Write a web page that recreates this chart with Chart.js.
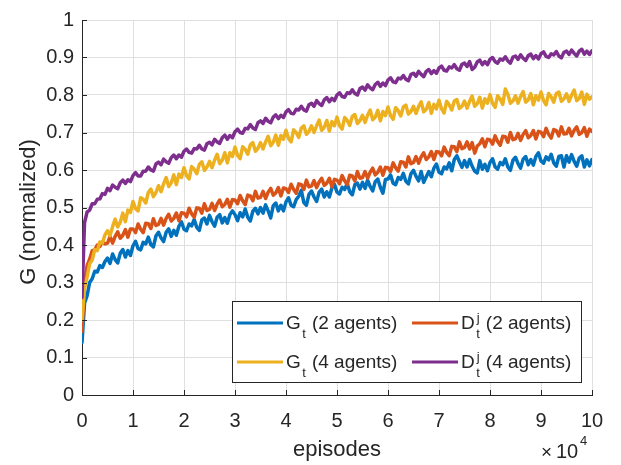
<!DOCTYPE html>
<html><head><meta charset="utf-8">
<script src="https://cdn.jsdelivr.net/npm/chart.js@4/dist/chart.umd.min.js"></script>
<style>html,body{margin:0;padding:0;background:#fff}#wrap{width:621px;height:465px;position:relative}</style>
</head><body><div id="wrap"><canvas id="c" width="621" height="465"></canvas></div>
<script>
// episodes, in thousands
const episodesK = [
 0,0.5,1,1.5,2,2.5,3,3.5,4,4.5, 5,5.5,6,6.5,7,7.5,8,8.5,9,9.5,
 10,10.5,11,11.5,12,12.5,13,13.5,14,14.5, 15,15.5,16,16.5,17,17.5,18,18.5,19,19.5,
 20,20.5,21,21.5,22,22.5,23,23.5,24,24.5, 25,25.5,26,26.5,27,27.5,28,28.5,29,29.5,
 30,30.5,31,31.5,32,32.5,33,33.5,34,34.5, 35,35.5,36,36.5,37,37.5,38,38.5,39,39.5,
 40,40.5,41,41.5,42,42.5,43,43.5,44,44.5, 45,45.5,46,46.5,47,47.5,48,48.5,49,49.5,
 50,50.5,51,51.5,52,52.5,53,53.5,54,54.5, 55,55.5,56,56.5,57,57.5,58,58.5,59,59.5,
 60,60.5,61,61.5,62,62.5,63,63.5,64,64.5, 65,65.5,66,66.5,67,67.5,68,68.5,69,69.5,
 70,70.5,71,71.5,72,72.5,73,73.5,74,74.5, 75,75.5,76,76.5,77,77.5,78,78.5,79,79.5,
 80,80.5,81,81.5,82,82.5,83,83.5,84,84.5, 85,85.5,86,86.5,87,87.5,88,88.5,89,89.5,
 90,90.5,91,91.5,92,92.5,93,93.5,94,94.5, 95,95.5,96,96.5,97,97.5,98,98.5,99,99.5, 100];

// G_t (2 agents)
const g2 = [
 0.14,0.245,0.265,0.30,0.31,0.33,0.328,0.345,0.34,0.356,
 0.365,0.351,0.376,0.361,0.352,0.378,0.388,0.368,0.385,0.372,
 0.398,0.41,0.39,0.387,0.407,0.403,0.421,0.401,0.395,0.424,
 0.434,0.419,0.409,0.434,0.443,0.423,0.439,0.426,0.45,0.462,
 0.442,0.438,0.456,0.451,0.468,0.447,0.439,0.467,0.472,0.456,
 0.479,0.462,0.45,0.474,0.481,0.459,0.473,0.458,0.481,0.491,
 0.481,0.465,0.486,0.475,0.496,0.474,0.464,0.49,0.498,0.483,
 0.50,0.485,0.507,0.491,0.472,0.505,0.512,0.491,0.506,0.491,
 0.515,0.526,0.506,0.502,0.521,0.53,0.546,0.513,0.506,0.535,
 0.544,0.528,0.516,0.541,0.549,0.528,0.542,0.528,0.552,0.562,
 0.541,0.536,0.554,0.548,0.564,0.542,0.534,0.561,0.565,0.549,
 0.567,0.551,0.573,0.556,0.544,0.569,0.576,0.554,0.538,0.575,
 0.576,0.587,0.565,0.561,0.58,0.575,0.591,0.57,0.563,0.59,
 0.599,0.583,0.571,0.596,0.567,0.582,0.596,0.582,0.605,0.616,
 0.594,0.59,0.608,0.603,0.619,0.598,0.628,0.638,0.622,0.607,
 0.625,0.608,0.628,0.61,0.597,0.592,0.625,0.602,0.615,0.598,
 0.62,0.63,0.608,0.602,0.62,0.614,0.63,0.608,0.599,0.626,
 0.634,0.617,0.605,0.629,0.636,0.614,0.628,0.613,0.636,0.646,
 0.624,0.618,0.635,0.627,0.642,0.619,0.61,0.636,0.638,0.608,
 0.638,0.621,0.641,0.623,0.61,0.632,0.638,0.608,0.627,0.611, 0.628];

// D_t^j (2 agents)
const d2 = [
 0.17,0.30,0.345,0.362,0.385,0.387,0.40,0.396,0.408,0.403,
 0.405,0.422,0.405,0.423,0.435,0.418,0.426,0.441,0.421,0.443,
 0.443,0.433,0.456,0.442,0.433,0.458,0.457,0.444,0.47,0.452,
 0.455,0.471,0.453,0.471,0.482,0.464,0.471,0.485,0.465,0.486,
 0.485,0.475,0.498,0.483,0.474,0.499,0.498,0.485,0.51,0.492,
 0.495,0.511,0.492,0.509,0.52,0.502,0.508,0.522,0.501,0.521,
 0.52,0.51,0.532,0.518,0.508,0.533,0.531,0.518,0.543,0.525,
 0.527,0.543,0.524,0.541,0.551,0.533,0.539,0.553,0.531,0.552,
 0.55,0.54,0.562,0.548,0.538,0.563,0.561,0.548,0.573,0.555,
 0.557,0.572,0.553,0.568,0.578,0.559,0.565,0.578,0.555,0.575,
 0.573,0.563,0.585,0.571,0.561,0.586,0.584,0.571,0.596,0.578,
 0.58,0.596,0.578,0.594,0.605,0.587,0.594,0.608,0.586,0.607,
 0.606,0.596,0.619,0.606,0.597,0.622,0.621,0.608,0.635,0.617,
 0.62,0.636,0.618,0.635,0.646,0.628,0.635,0.649,0.628,0.649,
 0.648,0.638,0.661,0.647,0.638,0.663,0.662,0.649,0.675,0.657,
 0.66,0.675,0.656,0.673,0.645,0.664,0.67,0.683,0.662,0.682,
 0.68,0.669,0.691,0.676,0.666,0.69,0.689,0.674,0.70,0.681,
 0.683,0.698,0.679,0.695,0.705,0.686,0.692,0.705,0.683,0.703,
 0.701,0.689,0.711,0.695,0.685,0.708,0.705,0.691,0.715,0.696,
 0.697,0.711,0.691,0.706,0.715,0.695,0.70,0.713,0.69,0.709, 0.703];

// G_t (4 agents)
const g4 = [
 0.20,0.285,0.315,0.35,0.36,0.388,0.385,0.408,0.405,0.427,
 0.438,0.425,0.449,0.469,0.448,0.461,0.485,0.462,0.493,0.487,
 0.516,0.497,0.491,0.526,0.522,0.512,0.54,0.549,0.529,0.54,
 0.558,0.542,0.563,0.58,0.556,0.566,0.587,0.561,0.589,0.58,
 0.606,0.585,0.576,0.609,0.602,0.59,0.615,0.622,0.599,0.608,
 0.623,0.606,0.626,0.642,0.617,0.626,0.646,0.619,0.646,0.636,
 0.661,0.639,0.63,0.662,0.655,0.642,0.667,0.673,0.65,0.658,
 0.673,0.656,0.675,0.69,0.665,0.674,0.693,0.666,0.692,0.682,
 0.706,0.684,0.675,0.707,0.70,0.687,0.712,0.718,0.695,0.703,
 0.718,0.70,0.718,0.733,0.706,0.714,0.732,0.704,0.729,0.718,
 0.741,0.718,0.709,0.74,0.732,0.719,0.743,0.748,0.724,0.732,
 0.746,0.727,0.746,0.76,0.734,0.741,0.759,0.731,0.756,0.745,
 0.768,0.745,0.735,0.766,0.758,0.744,0.768,0.773,0.749,0.756,
 0.77,0.751,0.769,0.782,0.755,0.762,0.78,0.751,0.775,0.763,
 0.786,0.763,0.752,0.783,0.774,0.76,0.784,0.788,0.764,0.77,
 0.784,0.765,0.783,0.797,0.77,0.777,0.794,0.765,0.79,0.778,
 0.801,0.778,0.767,0.798,0.789,0.775,0.816,0.802,0.778,0.784,
 0.798,0.778,0.796,0.809,0.781,0.787,0.804,0.774,0.798,0.786,
 0.808,0.785,0.774,0.804,0.795,0.781,0.804,0.808,0.783,0.79,
 0.803,0.783,0.80,0.813,0.785,0.791,0.808,0.775,0.802,0.789, 0.795];

// D_t^j (4 agents)
const d4 = [
 0.26,0.46,0.488,0.493,0.51,0.51,0.522,0.523,0.537,0.535,
 0.551,0.545,0.56,0.554,0.55,0.566,0.573,0.564,0.574,0.569,
 0.585,0.593,0.584,0.584,0.597,0.597,0.608,0.60,0.597,0.616,
 0.621,0.614,0.629,0.622,0.618,0.633,0.64,0.63,0.64,0.634,
 0.65,0.656,0.647,0.645,0.657,0.656,0.666,0.656,0.653,0.67,
 0.674,0.667,0.682,0.675,0.671,0.686,0.693,0.682,0.692,0.686,
 0.702,0.709,0.70,0.698,0.711,0.71,0.721,0.712,0.708,0.726,
 0.731,0.724,0.738,0.73,0.726,0.741,0.747,0.737,0.746,0.74,
 0.755,0.761,0.751,0.75,0.762,0.76,0.77,0.76,0.757,0.774,
 0.778,0.77,0.785,0.777,0.772,0.787,0.793,0.782,0.791,0.785,
 0.80,0.806,0.796,0.794,0.806,0.804,0.814,0.804,0.80,0.817,
 0.821,0.813,0.827,0.819,0.814,0.828,0.834,0.823,0.832,0.825,
 0.84,0.846,0.835,0.833,0.845,0.843,0.852,0.842,0.838,0.855,
 0.858,0.85,0.863,0.855,0.849,0.863,0.868,0.857,0.865,0.858,
 0.872,0.877,0.866,0.864,0.875,0.872,0.881,0.87,0.866,0.882,
 0.885,0.876,0.889,0.868,0.874,0.888,0.893,0.881,0.889,0.881,
 0.895,0.90,0.889,0.885,0.896,0.893,0.902,0.891,0.885,0.901,
 0.904,0.895,0.907,0.898,0.892,0.905,0.909,0.897,0.905,0.896,
 0.91,0.915,0.903,0.90,0.91,0.907,0.916,0.904,0.899,0.914,
 0.917,0.908,0.92,0.911,0.904,0.917,0.922,0.909,0.917,0.908, 0.918];

const xTickValues = [0,10000,20000,30000,40000,50000,60000,70000,80000,90000,100000];
const yTickValues = [0,0.1,0.2,0.3,0.4,0.5,0.6,0.7,0.8,0.9,1];
const legendBase = ['G','D','G','D'];
const legendSup  = ['','j','','j'];
const legendSub  = ['t','t','t','t'];
const legendRest = ['(2 agents)','(2 agents)','(4 agents)','(4 agents)'];
const colors = ['#0072BD','#D95319','#EDB120','#7E2F8E'];
const seriesList = [g2,d2,g4,d4];

const FONT = "'Liberation Sans', Arial, Helvetica, sans-serif";
const INK = '#262626';

const datasets = seriesList.map((s,i)=>({
  label: legendBase[i]+legendSub[i]+' '+legendRest[i],
  data: episodesK.map((e,k)=>({x:e*1000,y:s[k]})),
  borderColor: colors[i], backgroundColor: colors[i],
  borderWidth: 3.5, pointRadius: 0, tension: 0, fill:false,
  borderJoinStyle:'round', borderCapStyle:'round',
  order: 4-i
}));

const decor = {
  id:'decor',
  afterDraw(chart){
    const ctx = chart.ctx, xs = chart.scales.x, ys = chart.scales.y, a = chart.chartArea;
    ctx.save();
    // inward ticks
    ctx.strokeStyle = INK; ctx.lineWidth = 1;
    ctx.beginPath();
    xTickValues.forEach(v=>{const p=Math.round(xs.getPixelForValue(v))+0.5; ctx.moveTo(p,a.bottom); ctx.lineTo(p,a.bottom-5);});
    yTickValues.forEach(v=>{const p=Math.round(ys.getPixelForValue(v))+0.5; ctx.moveTo(a.left,p); ctx.lineTo(a.left+5,p);});
    ctx.stroke();
    // axis titles
    ctx.fillStyle = INK;
    ctx.font = '22px '+FONT;
    ctx.textAlign='center'; ctx.textBaseline='alphabetic';
    ctx.fillText('episodes', (a.left+a.right)/2, 456);
    ctx.save();
    ctx.translate(35, 212); ctx.rotate(-Math.PI/2);
    ctx.fillText('G (normalized)', 0, 0);
    ctx.restore();
    // x10^4
    ctx.textAlign='left';
    ctx.font = '19px '+FONT;
    ctx.fillText('\u00d7', 541, 458);
    ctx.font = '20px '+FONT;
    ctx.fillText('10', 556, 458);
    ctx.font = '13px '+FONT;
    ctx.fillText('4', 580, 445);
    // legend
    ctx.fillStyle='#fff';
    ctx.fillRect(232,301,350,82);
    ctx.strokeStyle=INK; ctx.lineWidth=1;
    ctx.strokeRect(232.5,301.5,349,81);
    const colX=[237,412], rowY=[323,362];
    chart.data.datasets.forEach((ds,i)=>{
      const x=colX[i%2], y=rowY[Math.floor(i/2)];
      ctx.strokeStyle=ds.borderColor; ctx.lineWidth=3; ctx.lineCap='butt';
      ctx.beginPath(); ctx.moveTo(x,y); ctx.lineTo(x+46,y); ctx.stroke();
      ctx.fillStyle=INK;
      ctx.font='19px '+FONT;
      let tx=x+49; const base=y+6;
      ctx.fillText(legendBase[i], tx, base);
      tx += ctx.measureText(legendBase[i]).width + 1.5;
      ctx.font='13px '+FONT;
      ctx.fillText(legendSub[i], tx, base+9);
      let w = ctx.measureText(legendSub[i]).width;
      if(legendSup[i]){ ctx.fillText(legendSup[i], tx+0.5, base-7); w=Math.max(w, ctx.measureText(legendSup[i]).width); }
      tx += w + 6;
      ctx.font='19px '+FONT;
      ctx.fillText(legendRest[i], tx, base);
    });
    ctx.restore();
  }
};

new Chart(document.getElementById('c'), {
  type:'line',
  data:{datasets},
  options:{
    responsive:false, animation:false, devicePixelRatio:1,
    layout:{padding:{top:11,right:29,left:0,bottom:0}},
    plugins:{legend:{display:false}, tooltip:{enabled:false}},
    scales:{
      x:{type:'linear', min:0, max:100000,
        afterBuildTicks:(s)=>{s.ticks = xTickValues.map(v=>({value:v}));},
        afterFit:(s)=>{s.height=70;},
        grid:{color:'#dfdfdf', lineWidth:1, drawTicks:false},
        border:{display:true, color:INK, width:1},
        ticks:{padding:14, color:INK, font:{family:FONT, size:20}, maxRotation:0, autoSkip:false,
          callback:(v)=>String(v/10000)}
      },
      y:{type:'linear', min:0, max:1,
        afterBuildTicks:(s)=>{s.ticks = yTickValues.map(v=>({value:v}));},
        afterFit:(s)=>{s.width=82;},
        grid:{color:'#dfdfdf', lineWidth:1, drawTicks:false},
        border:{display:true, color:INK, width:1},
        ticks:{padding:8, color:INK, font:{family:FONT, size:20}, autoSkip:false,
          callback:(v)=>String(Number(v.toFixed(1)))}
      }
    }
  },
  plugins:[decor]
});
</script>
</body></html>
